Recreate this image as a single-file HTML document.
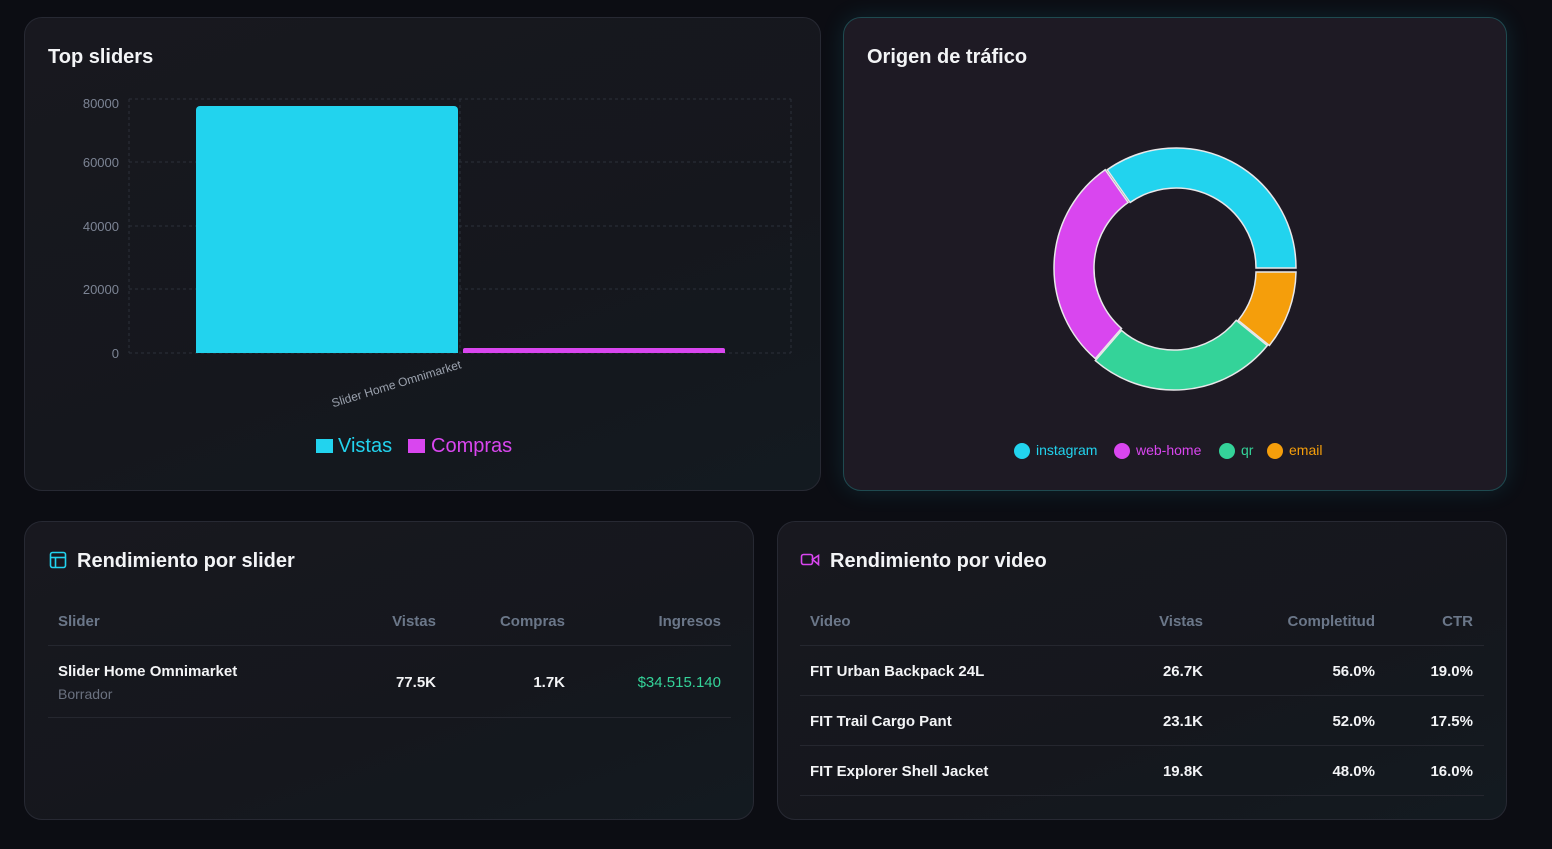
<!DOCTYPE html>
<html><head><meta charset="utf-8"><style>
*{box-sizing:border-box;margin:0;padding:0}
body{width:1552px;height:849px;background:#0c0d13;font-family:"Liberation Sans",sans-serif;color:#fff;position:relative;overflow:hidden}
.card{position:absolute;border:1px solid #272933;border-radius:18px;background:linear-gradient(160deg,#18181f 0%,#15171d 60%,#131a20 100%)}
h2{position:absolute;font-size:20px;font-weight:bold;color:#f3f4f6}
.th{position:absolute;font-size:15px;font-weight:bold;color:#6b7789}
.td{position:absolute;font-size:15px;font-weight:bold;color:#f3f4f6}
.line{position:absolute;height:1px;background:#25272f}
.r{text-align:right}
</style></head><body>
<div class="card" style="left:24px;top:17px;width:797px;height:474px"></div>
<h2 style="left:48px;top:46px">Top sliders</h2>
<svg style="position:absolute;left:0;top:0" width="1552" height="849">
<g stroke="#2c303a" stroke-dasharray="3,3" stroke-width="1">
<line x1="129" y1="99" x2="791" y2="99"/><line x1="129" y1="162" x2="791" y2="162"/><line x1="129" y1="226" x2="791" y2="226"/><line x1="129" y1="289" x2="791" y2="289"/><line x1="129" y1="353" x2="791" y2="353"/>
<line x1="129" y1="99" x2="129" y2="353"/><line x1="460" y1="99" x2="460" y2="353"/><line x1="791" y1="99" x2="791" y2="353"/>
</g>
<g font-family="Liberation Sans" font-size="13" fill="#7c8494" text-anchor="end">
<text x="119" y="108">80000</text><text x="119" y="167">60000</text><text x="119" y="231">40000</text><text x="119" y="294">20000</text><text x="119" y="358">0</text>
</g>
<path d="M196 353V110a4 4 0 0 1 4-4h254a4 4 0 0 1 4 4v243z" fill="#22d3ee"/>
<path d="M463 353v-3a2 2 0 0 1 2-2h258a2 2 0 0 1 2 2v3z" fill="#d946ef"/>
<text x="462" y="368" font-family="Liberation Sans" font-size="12" fill="#9aa1ad" text-anchor="end" transform="rotate(-17 462 368)">Slider Home Omnimarket</text>
<rect x="316" y="439" width="17" height="14" fill="#22d3ee"/>
<text x="338" y="452" font-family="Liberation Sans" font-size="20" fill="#22d3ee">Vistas</text>
<rect x="408" y="439" width="17" height="14" fill="#d946ef"/>
<text x="431" y="452" font-family="Liberation Sans" font-size="20" fill="#d946ef">Compras</text>
</svg>

<div class="card" style="left:843px;top:17px;width:664px;height:474px;background:#1e1a24;border-color:#1f4a50;box-shadow:0 0 24px rgba(34,211,238,0.12)"></div>
<h2 style="left:867px;top:46px">Origen de tráfico</h2>
<svg style="position:absolute;left:0;top:0" width="1552" height="849">
<g stroke="#e8e8ea" stroke-width="1.5">
<path d="M1107.2 169.7A120 120 0 0 1 1296 268L1256 268A80 80 0 0 0 1130.1 202.5Z" fill="#22d3ee"/>
<path d="M1296 270A120 120 0 0 1 1269.3 343.5L1238.2 318.3A80 80 0 0 0 1256 270Z" fill="#f59e0b" transform="translate(0,2)"/>
<path d="M1269.3 343.5A120 120 0 0 1 1097.3 358.6L1123.5 328.4A80 80 0 0 0 1238.2 318.3Z" fill="#34d399" transform="translate(-2,2)"/>
<path d="M1097.3 358.6A120 120 0 0 1 1107.2 169.7L1130.1 202.5A80 80 0 0 0 1123.5 328.4Z" fill="#d946ef" transform="translate(-2,0)"/>
</g>
<g font-family="Liberation Sans" font-size="14">
<circle cx="1022" cy="451" r="8" fill="#22d3ee"/><text x="1036" y="455" fill="#22d3ee">instagram</text>
<circle cx="1122" cy="451" r="8" fill="#d946ef"/><text x="1136" y="455" fill="#d946ef">web-home</text>
<circle cx="1227" cy="451" r="8" fill="#34d399"/><text x="1241" y="455" fill="#34d399">qr</text>
<circle cx="1275" cy="451" r="8" fill="#f59e0b"/><text x="1289" y="455" fill="#f59e0b">email</text>
</g>
</svg>

<div class="card" style="left:24px;top:521px;width:730px;height:299px"></div>
<h2 style="left:77px;top:550px">Rendimiento por slider</h2>
<div class="th" style="left:58px;top:613px">Slider</div>
<div class="th r" style="left:336px;width:100px;top:613px">Vistas</div>
<div class="th r" style="left:465px;width:100px;top:613px">Compras</div>
<div class="th r" style="left:600px;width:121px;top:613px">Ingresos</div>
<div class="line" style="left:48px;top:645px;width:683px"></div>
<div class="td" style="left:58px;top:663px">Slider Home Omnimarket</div>
<div style="position:absolute;left:58px;top:686px;font-size:14px;color:#6b7280">Borrador</div>
<div class="td r" style="left:336px;width:100px;top:674px">77.5K</div>
<div class="td r" style="left:465px;width:100px;top:674px">1.7K</div>
<div class="r" style="position:absolute;left:580px;width:141px;top:674px;font-size:15px;color:#34d399">$34.515.140</div>
<div class="line" style="left:48px;top:717px;width:683px"></div>

<div class="card" style="left:777px;top:521px;width:730px;height:299px"></div>
<h2 style="left:830px;top:550px">Rendimiento por video</h2>
<div class="th" style="left:810px;top:613px">Video</div>
<div class="th r" style="left:1103px;width:100px;top:613px">Vistas</div>
<div class="th r" style="left:1254px;width:121px;top:613px">Completitud</div>
<div class="th r" style="left:1373px;width:100px;top:613px">CTR</div>
<div class="line" style="left:800px;top:645px;width:684px"></div>
<div class="td" style="left:810px;top:663px">FIT Urban Backpack 24L</div>
<div class="td r" style="left:1103px;width:100px;top:663px">26.7K</div>
<div class="td r" style="left:1254px;width:121px;top:663px">56.0%</div>
<div class="td r" style="left:1373px;width:100px;top:663px">19.0%</div>
<div class="line" style="left:800px;top:695px;width:684px"></div>
<div class="td" style="left:810px;top:713px">FIT Trail Cargo Pant</div>
<div class="td r" style="left:1103px;width:100px;top:713px">23.1K</div>
<div class="td r" style="left:1254px;width:121px;top:713px">52.0%</div>
<div class="td r" style="left:1373px;width:100px;top:713px">17.5%</div>
<div class="line" style="left:800px;top:745px;width:684px"></div>
<div class="td" style="left:810px;top:763px">FIT Explorer Shell Jacket</div>
<div class="td r" style="left:1103px;width:100px;top:763px">19.8K</div>
<div class="td r" style="left:1254px;width:121px;top:763px">48.0%</div>
<div class="td r" style="left:1373px;width:100px;top:763px">16.0%</div>
<div class="line" style="left:800px;top:795px;width:684px"></div>

<svg style="position:absolute;left:0;top:0" width="1552" height="849">
<g fill="none" stroke-width="1.6">
<rect x="50.5" y="552.5" width="15" height="15" rx="2" stroke="#22d3ee"/><line x1="50.5" y1="557.5" x2="65.5" y2="557.5" stroke="#22d3ee"/><line x1="55.5" y1="557.5" x2="55.5" y2="567.5" stroke="#22d3ee"/>
<rect x="801.5" y="554.5" width="11" height="10" rx="2" stroke="#d946ef"/><path d="M812.5 559.5l6-4v9z" stroke="#d946ef"/>
</g>
</svg>
</body></html>
